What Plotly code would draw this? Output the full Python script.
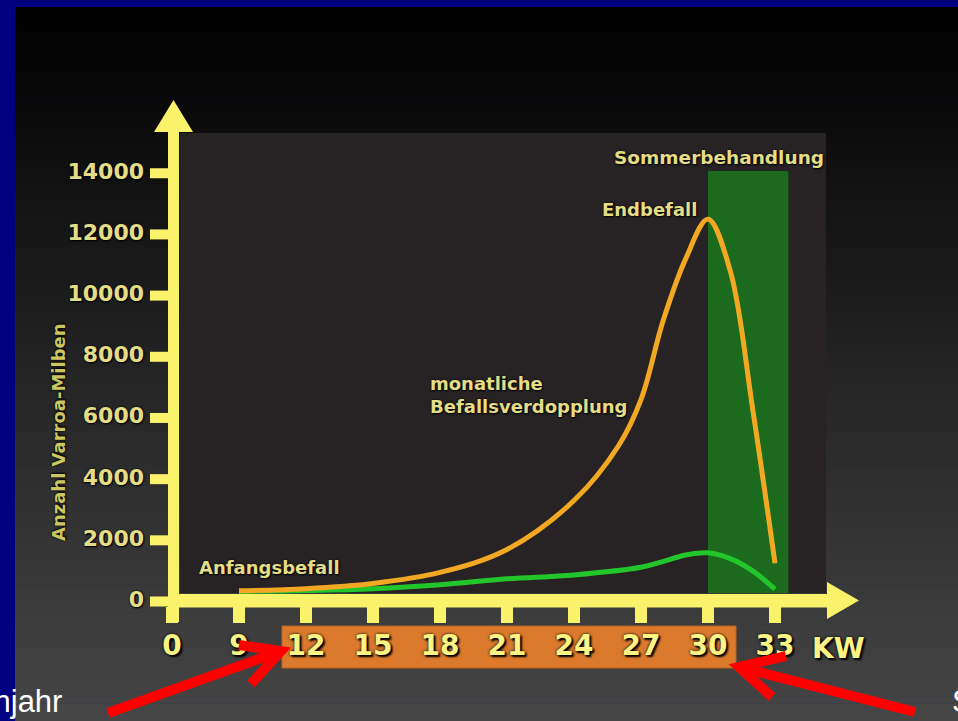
import plotly.graph_objects as go

# ---------------- data ----------------
kw_gesamt = [9, 12, 15, 18, 21, 24, 26, 27, 28, 29, 30, 31, 32, 33]
milben_gesamt = [350, 420, 590, 950, 1700, 3300, 5100, 6600, 9200, 11200, 12500, 10800, 6300, 1250]

kw_zweit = [9, 12, 15, 18, 21, 24, 27, 28, 29, 30, 31, 32, 33]
milben_zweit = [330, 360, 420, 550, 740, 870, 1120, 1310, 1520, 1590, 1400, 1000, 400]

x_tick_vals = [6, 9, 12, 15, 18, 21, 24, 27, 30, 33]
x_tick_text = ["0", "9", "12", "15", "18", "21", "24", "27", "30", "33"]
y_tick_vals = [0, 2000, 4000, 6000, 8000, 10000, 12000, 14000]
y_tick_text = ["0", "2000", "4000", "6000", "8000", "10000", "12000", "14000"]

behandlung_von, behandlung_bis = 30.0, 33.6

# ---------------- canvas / scale ----------------
W, H = 958, 721
PX_PER_KW = 22.333
PX_PER_UNIT = 0.03059
X6_PX = 172.0
Y0_PX = 601.5


def kx(px):
    return 6 + (px - X6_PX) / PX_PER_KW


def vy(py):
    return (Y0_PX - py) / PX_PER_UNIT


YEL = "#fbf26c"
LBL = "#fbf384"
TXT = "#e4dd86"
SHADOW_BIG = "0px 0px 3px #000, 2px 2px 2px #000"
SHADOW_SMALL = "1px 1px 2px #000, 0px 0px 2px #000"

shapes = []
# vertical gradient panel
N = 120
top, bot = 7, H
for i in range(N):
    y_a = top + (bot - top) * i / N
    y_b = top + (bot - top) * (i + 1) / N + 0.6
    mid = (y_a + y_b) / 2
    g = int(round(70 * max(0, (mid - 8)) / 713))
    shapes.append(dict(type="rect", xref="paper", yref="paper", layer="below",
                       x0=15 / W, x1=1, y0=1 - y_b / H, y1=1 - y_a / H,
                       fillcolor=f"rgb({g},{g},{g})", line_width=0))

# plot panel
shapes.append(dict(type="rect", xref="x", yref="y", layer="below",
                   x0=kx(180), x1=kx(826), y0=vy(593), y1=vy(133),
                   fillcolor="#272324", line_width=0))
# summer treatment band
shapes.append(dict(type="rect", xref="x", yref="y", layer="below",
                   x0=behandlung_von, x1=behandlung_bis, y0=vy(593), y1=vy(171),
                   fillcolor="#1c6a1d", line_width=0))
# orange box behind labels
shapes.append(dict(type="rect", xref="x", yref="y", layer="below",
                   x0=kx(282), x1=kx(736), y0=vy(668), y1=vy(626),
                   fillcolor="#db7a2d", line=dict(color="#b86220", width=1)))
# y axis bar + arrow
shapes.append(dict(type="rect", xref="x", yref="y", layer="below",
                   x0=kx(168), x1=kx(179), y0=vy(622), y1=vy(131),
                   fillcolor=YEL, line_width=0))
shapes.append(dict(type="path", xref="x", yref="y", layer="below",
                   path=f"M {kx(154)},{vy(132)} L {kx(173.5)},{vy(100)} L {kx(193)},{vy(132)} Z",
                   fillcolor=YEL, line_width=0))
for v in y_tick_vals:
    shapes.append(dict(type="rect", xref="x", yref="y", layer="below",
                       x0=kx(150), x1=kx(168), y0=v - 5 / PX_PER_UNIT, y1=v + 5 / PX_PER_UNIT,
                       fillcolor=YEL, line_width=0))
# x axis bar + arrow
shapes.append(dict(type="rect", xref="x", yref="y", layer="below",
                   x0=kx(168), x1=kx(828), y0=vy(607.5), y1=vy(594),
                   fillcolor=YEL, line_width=0))
shapes.append(dict(type="path", xref="x", yref="y", layer="below",
                   path=f"M {kx(827)},{vy(582)} L {kx(859)},{vy(600.5)} L {kx(827)},{vy(619)} Z",
                   fillcolor=YEL, line_width=0))
for k in x_tick_vals:
    shapes.append(dict(type="rect", xref="x", yref="y", layer="below",
                       x0=k - 6 / PX_PER_KW, x1=k + 6 / PX_PER_KW, y0=vy(623), y1=vy(607),
                       fillcolor=YEL, line_width=0))

# red arrows (above labels)
def arrow_path(tail, tip, w1, w2):
    return (f"M {kx(tail[0])},{vy(tail[1])} L {kx(tip[0])},{vy(tip[1])} "
            f"M {kx(w1[0])},{vy(w1[1])} L {kx(tip[0])},{vy(tip[1])} L {kx(w2[0])},{vy(w2[1])}")

shapes.append(dict(type="path", xref="x", yref="y", layer="above",
                   path=arrow_path((108, 713), (281, 651), (239, 645), (251, 684)),
                   line=dict(color="#ff0000", width=10)))
shapes.append(dict(type="path", xref="x", yref="y", layer="above",
                   path=arrow_path((915, 712), (739, 667), (786, 656), (772, 697)),
                   line=dict(color="#ff0000", width=10)))

fig = go.Figure()
fig.add_trace(go.Scatter(x=kw_zweit, y=milben_zweit, mode="lines",
                         line=dict(color="#22c52a", width=5, shape="spline", smoothing=1.0),
                         hoverinfo="skip", showlegend=False))
fig.add_trace(go.Scatter(x=kw_gesamt, y=milben_gesamt, mode="lines",
                         line=dict(color="#f3a823", width=5, shape="spline", smoothing=1.0),
                         hoverinfo="skip", showlegend=False))
# x tick labels
fig.add_trace(go.Scatter(x=x_tick_vals, y=[vy(648)] * len(x_tick_vals), mode="text",
                         text=x_tick_text, textposition="middle center",
                         textfont=dict(family="DejaVu Sans", size=28, color=LBL,
                                       weight="bold", shadow=SHADOW_BIG),
                         hoverinfo="skip", showlegend=False))
# y tick labels
fig.add_trace(go.Scatter(x=[kx(144)] * len(y_tick_vals), y=y_tick_vals, mode="text",
                         text=y_tick_text, textposition="middle left",
                         textfont=dict(family="DejaVu Sans", size=22, color=TXT,
                                       weight="bold", shadow=SHADOW_SMALL),
                         hoverinfo="skip", showlegend=False))

ann_font = dict(family="DejaVu Sans", size=18, color=TXT, weight="bold", shadow=SHADOW_SMALL)
annotations = [
    dict(x=kx(838), y=vy(648), text="KW", xanchor="center", yanchor="middle",
         font=dict(family="DejaVu Sans", size=28, color=LBL, weight="bold", shadow=SHADOW_BIG)),
    dict(x=kx(197), y=vy(567), text="Anfangsbefall", xanchor="left", yanchor="middle", font=ann_font),
    dict(x=kx(428), y=vy(395), text="monatliche<br>Befallsverdopplung", xanchor="left",
         yanchor="middle", align="left", font=ann_font),
    dict(x=kx(600), y=vy(209), text="Endbefall", xanchor="left", yanchor="middle", font=ann_font),
    dict(x=kx(612), y=vy(157), text="Sommerbehandlung", xanchor="left", yanchor="middle",
         font=dict(family="DejaVu Sans", size=18.5, color=TXT, weight="bold", shadow=SHADOW_SMALL)),
    dict(x=kx(58), y=vy(432), text="Anzahl Varroa-Milben", textangle=-90, xanchor="center",
         yanchor="middle",
         font=dict(family="DejaVu Sans", size=18, color="#cdc660", weight="bold", shadow=SHADOW_SMALL)),
    dict(x=kx(64), y=vy(701), text="Frühjahr", xanchor="right", yanchor="middle",
         font=dict(family="Liberation Sans", size=31, color="#ffffff")),
    dict(x=kx(950), y=vy(701), text="Sommer", xanchor="left", yanchor="middle",
         font=dict(family="Liberation Sans", size=31, color="#ffffff")),
]
for a in annotations:
    a.update(xref="x", yref="y", showarrow=False)

fig.update_layout(
    width=W, height=H, autosize=False,
    margin=dict(l=0, r=0, t=0, b=0, pad=0),
    paper_bgcolor="#000080", plot_bgcolor="rgba(0,0,0,0)",
    xaxis=dict(range=[kx(0), kx(W)], visible=False, fixedrange=True),
    yaxis=dict(range=[vy(H), vy(0)], visible=False, fixedrange=True),
    shapes=shapes, annotations=annotations, showlegend=False,
)

fig.write_html("out.html", config={"displayModeBar": False},
               post_script="document.body.style.margin='0';document.body.style.overflow='hidden';")
